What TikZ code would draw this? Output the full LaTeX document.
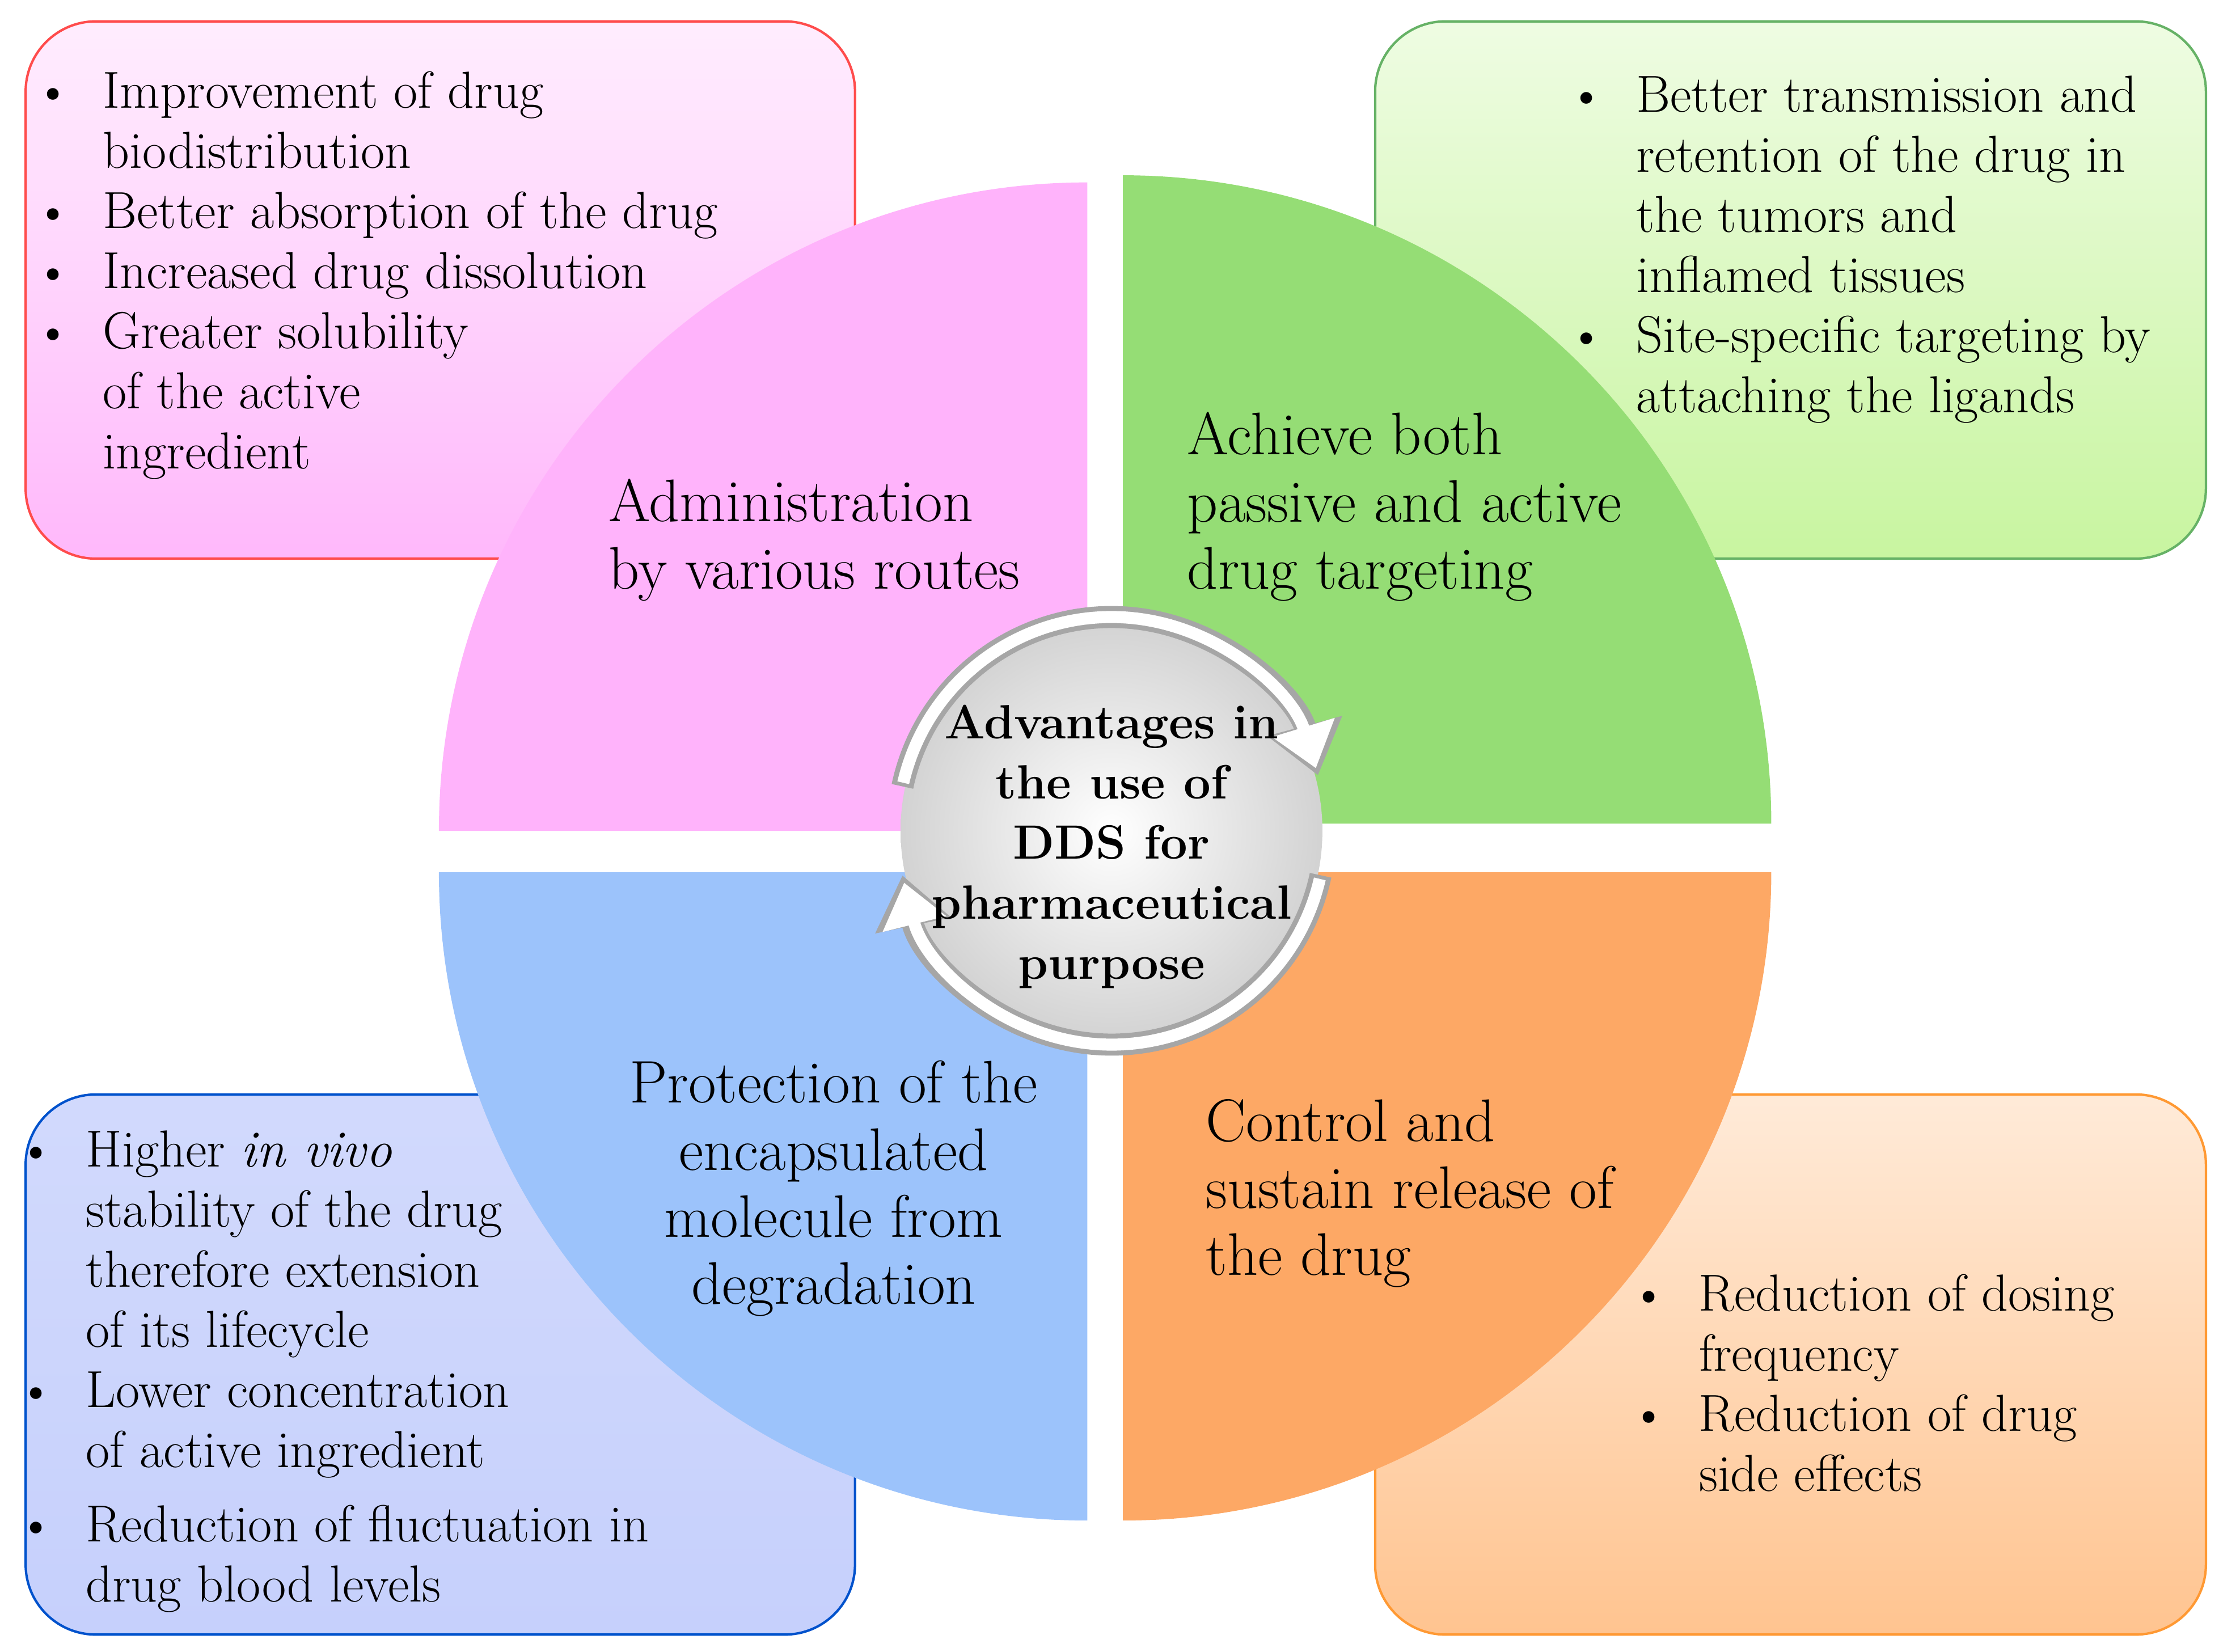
\documentclass[tikz,border=0pt]{standalone}
\usetikzlibrary{arrows.meta}
\usetikzlibrary{calc}

\definecolor{pinkbox}{HTML}{FFB8FB}
\definecolor{greenbox}{HTML}{C8F5A0}
\definecolor{bluebox}{HTML}{C6D0FC}
\definecolor{orangebox}{HTML}{FFC490}
\definecolor{pinkq}{HTML}{FFB3FB}
\definecolor{greenq}{HTML}{95DD75}
\definecolor{blueq}{HTML}{9CC3FB}
\definecolor{orangeq}{HTML}{FDA865}

\tikzset{
  box/.style={rounded corners=35, line width=1.2pt},
  bullets/.style={anchor=north west, align=left, inner sep=0pt,
    font=\fontsize{26}{30}\selectfont},
  quarter/.style={align=left, anchor=north west, inner sep=0pt,
    font=\fontsize{30}{33.5}\selectfont},
}
\newcommand{\bul}{\llap{\textbullet\hspace{0.55cm}}}

\begin{document}
\begin{tikzpicture}[x=0.025cm,y=-0.025cm]
        \useasboundingbox (0,0) rectangle (1560,1159);

        %Outer boxes
        \draw[box, draw=red!70!white, top color=pinkbox!25!white, bottom color=pinkbox] (18,15) rectangle (600,392);
        \draw[box, draw=green!50!black!60!white, top color=greenbox!30!white, bottom color=greenbox] (965,15) rectangle (1548,392);
        \draw[box, draw=blue!60!cyan!80!black, top color=bluebox!80!white, bottom color=bluebox] (18,768) rectangle (600,1147);
        \draw[box, draw=orange!80!white, top color=orangebox!35!white, bottom color=orangebox] (965,768) rectangle (1548,1147);

        %Quarters
        \fill[pinkq] (308,583) arc[start angle=180,end angle=270,radius=455] -- (763,583) -- cycle;
        \fill[greenq] (788,578) -- (1243,578) arc[start angle=0,end angle=-90,radius=455] -- cycle;
        \fill[blueq] (308,612) arc[start angle=180,end angle=90,radius=455] -- (763,612) -- cycle;
        \fill[orangeq] (1243,612) arc[start angle=0,end angle=90,radius=455] -- (788,612) -- cycle;

        %Centre
        \shade[inner color=white, outer color=gray!35] (780,583) circle[radius=148];
        \draw[gray!70, line width=11pt, -{Triangle[length=0.9cm,width=1.3cm]}] (780,583) ++(-168:150) arc[start angle=-168,end angle=-15,radius=150];
        \draw[white, line width=6pt, -{Triangle[length=0.75cm,width=1.1cm]}] (780,583) ++(-167:150) arc[start angle=-167,end angle=-17,radius=150];
        \draw[gray!70, line width=11pt, -{Triangle[length=0.9cm,width=1.3cm]}] (780,583) ++(12:150) arc[start angle=12,end angle=168,radius=150];
        \draw[white, line width=6pt, -{Triangle[length=0.75cm,width=1.1cm]}] (780,583) ++(13:150) arc[start angle=13,end angle=166,radius=150];
        \node[align=center, font=\fontsize{24}{30}\selectfont\bfseries] (centre) at (780,594)
            {Advantages in\\the use of\\DDS for\\pharmaceutical\\purpose};

        %Quarter labels
        \node[quarter] (admin) at (427,336) {Administration\\by various routes};
        \node[quarter] (target) at (833,289) {Achieve both\\passive and active\\drug targeting};
        \node[quarter, anchor=north, align=center] (protect) at (585,744) {Protection of the\\encapsulated\\molecule from\\degradation};
        \node[quarter] (release) at (846,771) {Control and\\sustain release of\\the drug};

        %Box texts
        \node[bullets] (pinklist) at (72,50) {\bul Improvement of drug\\biodistribution\\\bul Better absorption of the drug\\\bul Increased drug dissolution\\\bul Greater solubility\\ of the active\\ ingredient};
        \node[bullets] (greenlist) at (1148,53) {\bul Better transmission and\\retention of the drug in\\the tumors and\\inflamed tissues\\\bul Site-specific targeting by\\attaching the ligands};
        \node[bullets] (bluelist) at (60,793) {\bul Higher \textit{in vivo}\\stability of the drug\\therefore extension\\of its lifecycle\\\bul Lower concentration\\of active ingredient\\[0.25cm]\bul Reduction of fluctuation in\\drug blood levels};
        \node[bullets] (orangelist) at (1192,894) {\bul Reduction of dosing\\frequency\\\bul Reduction of drug\\side effects};

    \end{tikzpicture}
\end{document}
